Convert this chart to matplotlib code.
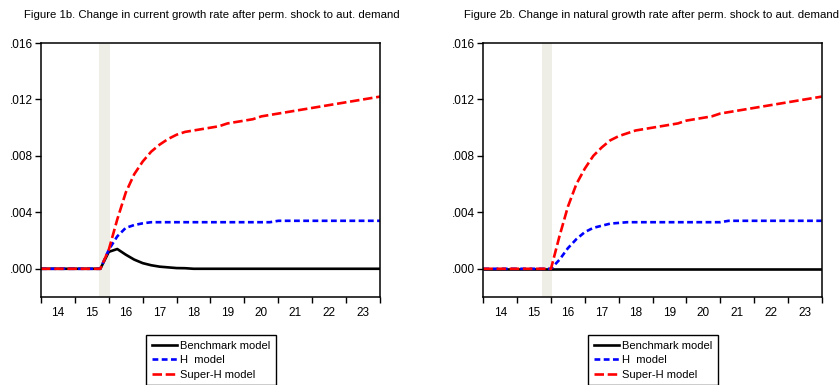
import numpy as np
import matplotlib
matplotlib.use("Agg")
import matplotlib.pyplot as plt
from matplotlib import font_manager
from matplotlib.lines import Line2D
from matplotlib.ticker import FixedLocator, FuncFormatter, NullFormatter

available = {f.name for f in font_manager.fontManager.ttflist}
FONT = "Liberation Sans Narrow" if "Liberation Sans Narrow" in available else "Liberation Sans"
plt.rcParams["font.family"] = [FONT, "DejaVu Sans"]

# Quarterly observations, 2014Q1 .. 2024Q1
dates = 2014.0 + 0.25 * np.arange(41)
year_labels = ["14", "15", "16", "17", "18", "19", "20", "21", "22", "23"]
shock_start, shock_end = 2015.72, 2016.03

titles = [
    "Figure 1b. Change in current growth rate after perm. shock to aut. demand",
    "Figure 2b. Change in natural growth rate after perm. shock to aut. demand",
]

# Figure 1b: current growth rate
cur_benchmark = [0, 0, 0, 0, 0, 0, 0, 0,
                 0.0012, 0.0014, 0.0010, 0.00065, 0.0004, 0.00025, 0.00015, 0.0001,
                 0.00005, 0.00004, 0, 0, 0, 0, 0, 0, 0, 0, 0, 0, 0, 0, 0, 0,
                 0, 0, 0, 0, 0, 0, 0, 0, 0]
cur_h = [0, 0, 0, 0, 0, 0, 0, 0,
         0.00135, 0.0023, 0.0029, 0.0031, 0.00322, 0.0033, 0.0033, 0.0033,
         0.0033, 0.0033, 0.0033, 0.0033, 0.0033, 0.0033, 0.0033, 0.0033,
         0.0033, 0.0033, 0.0033, 0.0033, 0.0034, 0.0034, 0.0034, 0.0034,
         0.0034, 0.0034, 0.0034, 0.0034, 0.0034, 0.0034, 0.0034, 0.0034, 0.0034]
cur_superh = [0, 0, 0, 0, 0, 0, 0, 0,
              0.00135, 0.0035, 0.0054, 0.0067, 0.0076, 0.0083, 0.0088, 0.0092,
              0.0095, 0.0097, 0.0098, 0.0099, 0.0100, 0.0101, 0.0103, 0.0104,
              0.0105, 0.0106, 0.0108, 0.0109, 0.0110, 0.0111, 0.0112, 0.0113,
              0.0114, 0.0115, 0.0116, 0.0117, 0.0118, 0.0119, 0.0120, 0.0121, 0.0122]

# Figure 2b: natural growth rate
nat_benchmark = [0] * 41
nat_h = [0, 0, 0, 0, 0, 0, 0, 0, 0,
         0.00064, 0.00146, 0.0021, 0.0026, 0.0029, 0.00305, 0.0032,
         0.00325, 0.0033, 0.0033, 0.0033, 0.0033, 0.0033, 0.0033, 0.0033,
         0.0033, 0.0033, 0.0033, 0.0033, 0.0033, 0.0034, 0.0034, 0.0034,
         0.0034, 0.0034, 0.0034, 0.0034, 0.0034, 0.0034, 0.0034, 0.0034, 0.0034]
nat_superh = [0, 0, 0, 0, 0, 0, 0, 0, 0,
              0.0023, 0.0044, 0.0060, 0.0071, 0.0080, 0.0086, 0.0091,
              0.0094, 0.0096, 0.0098, 0.0099, 0.0100, 0.0101, 0.0102, 0.0103,
              0.0105, 0.0106, 0.0107, 0.0108, 0.0110, 0.0111, 0.0112, 0.0113,
              0.0114, 0.0115, 0.0116, 0.0117, 0.0118, 0.0119, 0.0120, 0.0121, 0.0122]

series_names = ["Benchmark model", "H  model", "Super-H model"]
panels = [
    (cur_benchmark, cur_h, cur_superh),
    (nat_benchmark, nat_h, nat_superh),
]

LW = 1.9
styles = [
    dict(color="black", lw=LW, ls="-"),
    dict(color="#0000ff", lw=LW, dashes=(2.2, 1.3)),
    dict(color="#ff0000", lw=LW, dashes=(3.6, 1.4)),
]

W, H = 840, 385
fig = plt.figure(figsize=(W / 100, H / 100), dpi=100)

axes_px = [(41, 380), (483.3, 821.7)]
top_px, bot_px = 43, 297
title_x = [212, 652]
legend_left = [146, 588]

for i, (x0, x1) in enumerate(axes_px):
    ax = fig.add_axes([x0 / W, 1 - bot_px / H, (x1 - x0) / W, (bot_px - top_px) / H])
    ax.axvspan(shock_start, shock_end, color="#efeee6", lw=0, zorder=0)
    for vals, st in zip(panels[i], styles):
        ax.plot(dates, vals, solid_capstyle="butt", dash_capstyle="butt", zorder=2, **st)
    ax.set_xlim(2014, 2024)
    ax.set_ylim(-0.002, 0.016)
    ax.yaxis.set_major_locator(FixedLocator([0, 0.004, 0.008, 0.012, 0.016]))
    ax.yaxis.set_major_formatter(FuncFormatter(lambda v, p: ("%.3f" % v).lstrip("0")))
    ax.xaxis.set_major_locator(FixedLocator(np.arange(2014, 2025)))
    ax.xaxis.set_major_formatter(NullFormatter())
    ax.xaxis.set_minor_locator(FixedLocator(np.arange(2014, 2024) + 0.5))
    ax.xaxis.set_minor_formatter(FuncFormatter(lambda v, p: year_labels[int(v - 2014)]))
    ax.tick_params(axis="x", which="major", direction="out", length=4.5, width=1.0)
    ax.tick_params(axis="x", which="minor", length=0, pad=7, labelsize=8.5)
    ax.tick_params(axis="y", which="major", direction="out", length=4.5, width=1.0,
                   pad=1.5, labelsize=8.5)
    for s in ax.spines.values():
        s.set_linewidth(1.1)
    fig.text(title_x[i] / W, 1 - 15 / H, titles[i], ha="center", va="center", fontsize=8.2)

    handles = [Line2D([], [], **st) for st in styles]
    fig.legend(handles, series_names, loc="upper left",
               bbox_to_anchor=(legend_left[i] / W, 1 - 335 / H),
               frameon=True, fancybox=False, edgecolor="black", framealpha=1,
               fontsize=8.0, handlelength=2.3, handletextpad=0.3,
               labelspacing=0.42, borderpad=0.5, borderaxespad=0)

fig.savefig("out.png", dpi=100)
